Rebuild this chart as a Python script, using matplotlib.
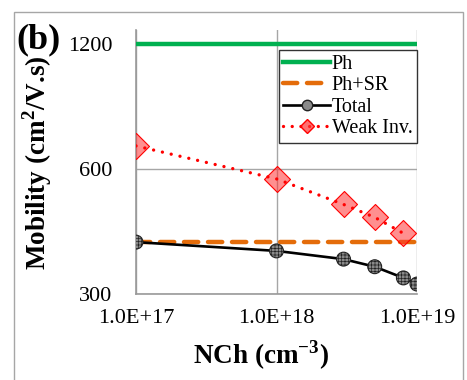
import matplotlib
matplotlib.use("Agg")
import matplotlib.pyplot as plt
from matplotlib.patches import Rectangle
from matplotlib.lines import Line2D
from matplotlib.ticker import FixedLocator, FixedFormatter, NullLocator

plt.rcParams['font.family'] = ['Liberation Serif', 'DejaVu Serif']
plt.rcParams['mathtext.fontset'] = 'custom'
plt.rcParams['mathtext.rm'] = 'Liberation Serif'
plt.rcParams['mathtext.bf'] = 'Liberation Serif:bold'
plt.rcParams['hatch.linewidth'] = 0.5

# data
nch = [1e17, 1e18, 3e18, 5e18, 8e18, 1e19]
ph_x = [1e17, 1e19]
ph = [1200, 1200]
phsr_x = [1e17, 1e19]
phsr = [400, 400]
total = [400, 381, 364, 349, 328, 317]
weak_x = [1e17, 1e18, 3e18, 5e18, 8e18]
weak = [682, 568, 493, 459, 420]
yticks = [300, 600, 1200]
ytick_labels = ['300', '600', '1200']
xticks = [1e17, 1e18, 1e19]
xtick_labels = ['1.0E+17', '1.0E+18', '1.0E+19']

fig = plt.figure(figsize=(4.67, 3.80), dpi=100)
ax = fig.add_axes([136/467, 1-294/380, (417-136)/467, (294-30)/380])

grid_c = '#a6a6a6'
ax.set_xscale('log')
ax.set_yscale('log', base=2)
ax.set_xlim(1e17, 1e19)
ax.set_ylim(300, 1297)

ax.plot(ph_x, ph, color='#00b050', lw=3.2, solid_capstyle='butt', zorder=3)
ax.plot(phsr_x, phsr, color='#e46c0a', lw=3.2, dashes=(3.2, 2.2),
        dash_capstyle='round', zorder=3)
ax.plot(nch, total, color='black', lw=1.9, zorder=4)
ax.scatter(nch, total, s=100, facecolor='#8a8a8a', edgecolor='#222222',
           hatch='+++++', linewidths=0.8, zorder=5)
ax.plot(weak_x, weak, color='red', lw=2.4, linestyle=(0, (0.01, 2.7)),
        dash_capstyle='round', zorder=6)
ax.scatter(weak_x, weak, s=175, marker='D', facecolor=(1, 0.2, 0.2, 0.55),
           edgecolor='red', linewidths=0.8, zorder=5)

h_ph = Line2D([], [], color='#00b050', lw=3.2)
h_sr = Line2D([], [], color='#e46c0a', lw=3.2, dashes=(3.2, 2.2), dash_capstyle='round')
h_tot = Line2D([], [], color='black', lw=1.9, marker='o', markersize=7.5,
               markerfacecolor='#8a8a8a', markeredgecolor='#222222')
h_wk = Line2D([], [], color='red', lw=2.4, linestyle=(0, (0.01, 2.6)), dash_capstyle='round',
              marker='D', markersize=7.5, markerfacecolor=(1, 0.2, 0.2, 0.7),
              markeredgecolor='red')
leg = ax.legend([h_ph, h_sr, h_tot, h_wk], ['Ph', 'Ph+SR', 'Total', 'Weak Inv.'],
                loc='upper right', bbox_to_anchor=(1.0, 0.924), fontsize=14.5,
                frameon=True, fancybox=False, framealpha=1, edgecolor='#333333',
                handlelength=2.3, handletextpad=0.1, labelspacing=0.12,
                borderpad=0.22, borderaxespad=0.0)
leg.get_frame().set_linewidth(1.0)
leg.set_zorder(10)

ax.xaxis.set_major_locator(FixedLocator(xticks))
ax.xaxis.set_major_formatter(FixedFormatter(xtick_labels))
ax.xaxis.set_minor_locator(NullLocator())
ax.yaxis.set_major_locator(FixedLocator(yticks))
ax.yaxis.set_major_formatter(FixedFormatter(ytick_labels))
ax.yaxis.set_minor_locator(NullLocator())
ax.tick_params(axis='both', length=0, labelsize=16)
ax.tick_params(axis='x', pad=11)
ax.tick_params(axis='y', pad=17)
ax.grid(True, color=grid_c, lw=1.0)
ax.set_axisbelow(True)
for s in ['top', 'right']:
    ax.spines[s].set_visible(False)
for s in ['left', 'bottom']:
    ax.spines[s].set_color('#999999')
    ax.spines[s].set_linewidth(1.2)

fig.text(261/467, 1-355/380, r'NCh (cm$^{\mathbf{-3}}$)', ha='center', va='center',
         fontsize=19.5, fontweight='bold')
fig.text(37/467, 1-163/380, r'Mobility (cm$^{\mathbf{2}}$/V.s)', ha='center', va='center',
         rotation=90, fontsize=19.5, fontweight='bold')
fig.text(16/467, 1-40/380, '(b)', ha='left', va='center', fontsize=26, fontweight='bold')

fig.patches.append(Rectangle((14/467, -0.1), (463-14)/467, 1.1 - 12/380,
                             transform=fig.transFigure, fill=False,
                             edgecolor='#a6a6a6', lw=1.0))

fig.savefig('out.png', dpi=100)
